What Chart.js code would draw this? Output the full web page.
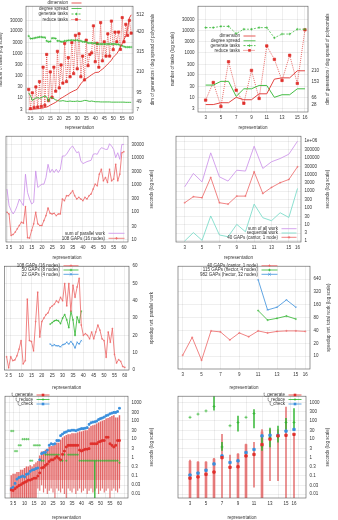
<!DOCTYPE html>
<html>
<head>
<meta charset="utf-8">
<script src="https://cdn.jsdelivr.net/npm/chart.js@4.4.1/dist/chart.umd.min.js"></script>
<style>
  html, body { margin: 0; padding: 0; background: #fff; }
  body { position: relative; width: 338px; height: 520px; overflow: hidden; }
  canvas { position: absolute; }
</style>
</head>
<body>
<canvas id="tasksAll" width="173" height="130" style="left:-4px;top:0"></canvas>
<canvas id="tasksSmall" width="169" height="130" style="left:169px;top:0"></canvas>
<canvas id="timeAll" width="169" height="130" style="left:0;top:130px"></canvas>
<canvas id="timeSmall" width="169" height="130" style="left:169px;top:130px"></canvas>
<canvas id="speedAll" width="169" height="130" style="left:0;top:260px"></canvas>
<canvas id="speedSmall" width="169" height="130" style="left:169px;top:260px"></canvas>
<canvas id="stepsAll" width="169" height="130" style="left:0;top:390px"></canvas>
<canvas id="stepsSmall" width="169" height="130" style="left:169px;top:390px"></canvas>
<script>
// ---- categories / ticks ----
const repsAll = [3,4,5,6,7,8,9,10,11,12,13,14,15,16,17,18,19,20,21,22,23,24,25,26,27,28,29,30,31,32,
  33,34,35,36,37,38,39,40,41,42,43,44,45,46,47,48,49,50,51,52,53,54,55,56,57,58,59,60];
const repsSmall = [3,4,5,6,7,8,9,10,11,12,13,14,15,16];
const repsMid = [24,25,26,27,28,29,30,31,32,33,34,35,36,37,38,39];
const repsHector = [11,12,13,14,15];

const xTicksAll = [3,5,10,15,20,25,30,35,40,45,50,55,60];
const xTicksSmall = [3,5,7,9,11,13,15,16];
const taskTicks = [3,10,30,100,300,1000,3000,10000,30000];
const dimTicksAll = [7,49,95,210,315,420,512];
const dimTicksSmall = [28,66,153,210];
const secTicksAll = [10,30,100,300,1000,3000,10000,30000];
const secTicksSmall = [1,3,10,30,100,300,1000,3000,10000,30000,100000,300000,1000000];
const speedTicks = [0,10,20,30,40,50,60];
const speedLogTicks = [10,20,40,80,160,320,640];
const stepTicks = [0.01,0.03,0.1,0.3,1,3,10,30,100,300,1000];

// ---- panel 1: tasks, representations 3..60 ----
const dimAll = [7,7,8,9,10,11,12,13,15,18, 20,24,30,35,40,45,52,60,67,72, 78,84,90,96,101,106,110,115,130,144,
  155,166,172,178,185,192,198,204,205,206, 215,222,230,240,250,259,270,285,295,305, 320,340,358,380,400,440,495,512];
const degAll = [95,80,55,62,68,70,66,70,75,78, 74,50,72,70,64,58,55,52,52,54, 52,50,50,52,50,50,50,52,50,50,
  52,55,55,52,50,52,50,48,48,48, 47,47,47,47,47,47,46,46,46,46, 46,46,46,46,45,45,45,45];
const genTasksAll = [6000,4600,4600,4800,5000,5200,5400,5400,5200,5200, 3600,3300,3400,4800,4800,4600,3600,3600,3300,3300,
  3600,3600,3800,3800,3900,3800,3800,3900,3600,3600, 3300,3300,3300,2900,2900,2900,2800,2900,2600,2600,
  2600,2600,2600,2600,2600,2600,2600,2600,2600,2500, 2500,2200,2200,2000,1900,1900,1900,1900];
const redTasksAll = [24,3.3,17,3.7,31,3.9,54,4.2,238,4.6, 890,7.5,146,10.5,238,20,1230,28,300,46,
  2800,54,640,89,3000,123,6400,202,7500,89, 750,64,3900,280,890,1050,17000,420,2800,238,
  24000,460,3300,750,7500,750,28000,1460,8900,3300, 9000,1500,40000,3300,20000,6400,30000,8000,50000,35000];

// ---- panel 2: tasks, representations 3..16 ----
const dimSmall = [28,28,38,38,67,54,54,86,86,165,172,172,210,210];
const degSmall = [133,133,153,153,72,113,113,131,131,67,81,81,113,113];
const genTasksSmall = [13200,13200,15000,15000,7100,11200,11200,13200,13200,4600,6800,6800,11200,11200];
const redTasksSmall = [7.5,46,3.9,390,21,5.4,160,8.9,2000,500,57,760,42,10500];

// ---- panel 3: seconds, 3..60 ----
const parWorkAll = [693,172,113,85,113,172,300,227,172,2430, 525,300,197,227,3210,796,916,1050,1050,1840,
  5620,2800,3700,2800,3700,2800,3700,11300,11300,13000, 17200,22700,26100,19700,14900,16200,7430,5940,6460,7030,
  7430,7860,13000,13700,13000,18200,22700,21500,19700,19700, 31700,26100,19700,9820,14900,8530,30000,30000];
const gaps108Time = [98,85,13.9,15.1,18.4,24.3,32.1,42.4,39,158, 11.5,11.1,21.2,37,98,37,32.1,32.1,48.8,74,
  141,90,85,90,74,85,85,300,261,396, 396,482,603,396,300,345,300,261,345,300,
  396,456,693,1050,916,2430,3700,1390,1840,1210, 3700,1390,1600,5620,1390,2430,14900,16200];

// ---- panel 4: seconds, 3..16 ----
const allWorkSmall = [1800,11500,3600,200000,7200,4000,18000,16000,500000,23000,58000,91000,166000,1000000];
const seqWorkSmall = [1,3.2,1.1,32,2.3,1.8,10,3.6,165,25,16.6,50,26,1450];
const gaps40Time = [200,460,400,6600,200,165,500,500,14500,720,1660,3200,5000,29000];

// ---- panel 5: speedup wrt parallel work ----
const speed108 = [7.7,1.2,7.7,5.4,5.8,8.2,12,17,3.5,5.4, 41,17,16.5,11,28,45,19,28,30,32,
  33,36,37,38,40,39,42,40,50,37, 50,34,49,42,48,53, 26,20,21,20,18,22,18,22,26,23,18,17,7.3,22,16,24,9,4,6,5,2,1.5];
const speed50 = [26.5,27.4,28.4,28.8,28.4,26.8,30,32,29,24.5,34,29,20,30.7,27.4,34];
const speed22 = [15,14,14.6,14,14,13.4,14.6,15,16,15,16.5,15,12.7,16,15,17];

// ---- panel 6: speedup wrt total work ----
const speed40 = [10.5,27.5,8,39,37,24,35,28.5,39,35,38,39,39,38];
const speed115 = [117,70,77,87,74];
const speed982 = [617,121,140,208,140];

// ---- panel 7: step times, 3..60 ----
const tGenAll = [0.016,0.015,0.019,0.023,0.028,0.031,0.037,0.042,0.047,0.056, 0.056,0.063,0.071,0.071,0.094,0.14,0.26,0.28,0.36,0.43,
  0.59,0.73,0.73,0.89,1.1,0.89,0.73,1.46,2.2,3.7, 4.6,4.6,4.6,4.6,4.6,4.6,2.5,2.2,2.5,2.8,
  2.8,3.0,5.6,5.6,5.6,5.6,6.9,7.5,8.4,8.4, 12.7,12.7,5.6,4.6,3.7,4.6,8.4,8.4];
const tRedAll = [28,28,2.2,2.2,4.6,4.6,10,10,10,10, 0.65,0.65,4.6,4.6,4.6,4.6,0.65,0.65,1.4,1.4,
  1.4,1.4,1.4,1.4,1.4,1.4,0.65,0.65,1.4,0.65, 1.4,1.4,1.4,1.4,1.4,1.4,0.65,0.65,0.65,0.65,
  0.65,0.65,0.65,0.65,0.65,0.65,0.65,0.65,0.65,0.65, 0.65,0.65,0.65,0.65,0.65,0.65,0.65,0.5];
const tChkAll = [0.019,0.023,0.037,0.063,0.077,0.084,0.094,0.084,0.115,0.125, 0.17,0.2,0.21,0.24,0.26,0.73,1.6,1.8,1.85,2.5,
  4.6,5.6,5.2,5.6,8.4,8.4,15.6,19,23,25, 29,29,31,31,29,32,35,38,38,40,
  43,65,80,86,90,98,120,135,146,165, 195,211,249,270,293,293,331,500];
const boxHiAll = [0.1,0.12,0.12,0.15, 0.15,0.2,0.2,0.25, 0.3,0.3,0.35,0.3, 0.4,0.5,0.6,1.2, 2,2,2.5,2.5,
  3.5,4,4,4.5, 6,6,9,12, 14,16,18,18, 20,20,20,22, 25,25,28,30, 30,40,50,55, 60,70,80,90,
  100,110,130,140, 160,180,200,150, 150,200];
const boxLoAll = [0.005,0.005,0.005,0.005,0.005,0.005,0.005,0.005,0.005,0.005,0.005,0.005,0.005,0.005,
  0.06,0.06,0.06,0.06,0.06,0.06,0.06,0.06,0.06,0.06, 0.06,0.06,0.06,0.06,0.06,0.06,0.06,0.06,0.06,0.06,
  0.06,0.06,0.06,0.06,0.06,0.06,0.06,0.06,0.06,0.06, 0.06,0.06,0.06,0.06,0.06,0.06,0.06,0.06,0.06,0.06, 0.06,0.06,0.06,0.06];
const lineLoAll = [0.005,0.005,0.005,0.005,0.005,0.005,0.005,0.005,0.005,0.005,0.005,0.005,0.005,0.005,
  0.02,0.015,0.03,0.012,0.02,0.01,0.015,0.02,0.012,0.004, 0.02,0.015,0.012,0.02,0.01,0.004,0.02,0.015,0.012,0.02,
  0.01,0.015,0.02,0.012,0.015,0.02,0.01,0.015,0.02,0.012, 0.015,0.02,0.01,0.015,0.02,0.012,0.015,0.02,0.004,0.015,
  0.02,0.015,0.012,0.02];
const redErrXAll = [47];
const redErrLoAll = [0.005];
const redErrHiAll = [0.65];

// ---- panel 8: step times, 3..16 ----
const tGenSmall = [0.074,0.087,0.12,0.16,0.97,0.29,0.31,1.2,1.45,5,9.9,14.8,16,18];
const tRedSmall = [152,227,338,593,3.7,53,80,152,245,4.2,12,13.6,80,80];
const tChkSmall = [0.11,0.14,0.2,0.44,1.2,0.53,0.65,1.84,2.7,14.8,16,16,27,33];
const lineHiSmall = [0.72,0.6,0.6,0.9,18,1.35,1.6,5.4,6.7,33,33,33,550,18];
const lineLoSmall = [0.005,0.005,0.005,0.005,0.005,0.005,0.005,0.005,0.024,0.005,0.055,0.055,0.005,0.005];
const boxXSmall = [3,4,5,6,9,10,12];
const boxHiSmall = [0.62,0.55,0.55,0.8,1.5,5,25];
const boxLoSmall = [0.005,0.005,0.005,0.005,0.005,0.005,0.005];
const redErrXSmall = [6,7,9,11,12,13,14,15,16];
const redErrLoSmall = [370,2.4,27,40,2.4,3.7,6.7,33,33];
const redErrHiSmall = [2500,6.7,180,400,15,40,50,135,450];

// ---- styles ----
const font = "'Liberation Sans', sans-serif";
const ink = '#333';
const gridCol = 'rgba(0,0,0,0.13)';
const tickFont = { family: font, size: 4.5 };
const red = '#e0302c';
const green = '#2fb52f';
const violet = '#c98de8';
const salmon = '#ec6464';
const teal = '#6fd8c4';
const blue = '#3a8fdc';
const pink = 'rgba(240,140,140,0.45)';
const errRed = 'rgba(216,58,58,0.7)';

const pts = (xs, ys) => xs.map((x, i) => ({ x, y: ys[i] }));
const spans = (xs, lo, hi) => xs.map((x, i) => ({ x, y: [lo[i], hi[i]] }));
const num = v => (v === 1000000 ? '1e+06' : String(v));

function drawMark(ctx, style, x, y, r, color) {
    ctx.fillStyle = color;
    ctx.strokeStyle = color;
    ctx.lineWidth = 0.7;
    if (style === 'rect') {
        ctx.fillRect(x - r, y - r, 2 * r, 2 * r);
        return;
    }
    ctx.beginPath();
    if (style === 'cross') {
        ctx.moveTo(x - r, y); ctx.lineTo(x + r, y);
        ctx.moveTo(x, y - r); ctx.lineTo(x, y + r);
    } else {
        ctx.moveTo(x - r, y - r); ctx.lineTo(x + r, y + r);
        ctx.moveTo(x - r, y + r); ctx.lineTo(x + r, y - r);
    }
    ctx.stroke();
}

// box around the plot area (gnuplot style)
const frame = {
    id: 'frame',
    afterDraw(chart) {
        const { ctx, chartArea: a } = chart;
        ctx.save();
        ctx.strokeStyle = '#555';
        ctx.lineWidth = 0.6;
        ctx.strokeRect(a.left, a.top, a.right - a.left, a.bottom - a.top);
        ctx.restore();
    }
};

// vertical axis titles, all reading bottom to top
const sideTitles = {
    id: 'sideTitles',
    afterDraw(chart, args, opts) {
        const { ctx, chartArea: a } = chart;
        const cy = (a.top + a.bottom) / 2;
        ctx.save();
        ctx.fillStyle = ink;
        ctx.font = `4.5px ${font}`;
        ctx.textAlign = 'center';
        ctx.textBaseline = 'middle';
        (opts.items || []).forEach(t => {
            ctx.save();
            ctx.translate(t.x, cy);
            ctx.rotate(-Math.PI / 2);
            ctx.fillText(t.text, 0, 0);
            ctx.restore();
        });
        ctx.restore();
    }
};

// gnuplot-like key: right aligned text, then line sample with marker
const gnuKey = {
    id: 'gnuKey',
    afterDraw(chart, args, opts) {
        if (opts.x === undefined) return;
        const ctx = chart.ctx;
        const items = chart.data.datasets.filter(d => d.key);
        ctx.save();
        ctx.font = `4.5px ${font}`;
        ctx.textAlign = 'right';
        ctx.textBaseline = 'middle';
        items.forEach((d, i) => {
            const y = opts.y + i * opts.dy;
            ctx.fillStyle = ink;
            ctx.fillText(d.label, opts.x, y);
            const x0 = opts.x + 3.5, x1 = x0 + opts.len;
            ctx.strokeStyle = d.borderColor;
            ctx.lineWidth = 0.8;
            ctx.setLineDash(d.borderDash || []);
            ctx.beginPath();
            ctx.moveTo(x0, y);
            ctx.lineTo(x1, y);
            ctx.stroke();
            ctx.setLineDash([]);
            if (d.pointStyle && d.pointRadius) drawMark(ctx, d.pointStyle, (x0 + x1) / 2, y, 1.3, d.borderColor);
        });
        ctx.restore();
    }
};

function xAxis(ticks, min, max, height) {
    return {
        type: 'linear', min, max,
        afterBuildTicks: a => { a.ticks = ticks.map(v => ({ value: v })); },
        afterFit: a => { a.height = height; },
        grid: { color: gridCol, lineWidth: 0.5, drawTicks: false },
        border: { display: false },
        ticks: { color: ink, font: tickFont, padding: 3, maxRotation: 0, autoSkip: false, callback: v => String(v) },
        title: { display: true, text: 'representation', color: ink, font: tickFont, padding: { top: 1.5, bottom: 0 } }
    };
}

function yAxis(cfg) {
    return {
        type: cfg.log ? 'logarithmic' : 'linear',
        position: cfg.side, min: cfg.min, max: cfg.max,
        afterBuildTicks: a => { a.ticks = cfg.ticks.map(v => ({ value: v })); },
        afterFit: a => { a.width = cfg.width; },
        grid: { display: cfg.grid !== false, color: gridCol, lineWidth: 0.5, drawTicks: false },
        border: { display: false },
        ticks: { color: ink, font: tickFont, padding: 3.5, autoSkip: false, callback: num }
    };
}

function panel(id, p) {
    return new Chart(document.getElementById(id), {
        type: 'line',
        data: { datasets: p.datasets },
        options: {
            responsive: false,
            animation: false,
            devicePixelRatio: 1,
            events: [],
            layout: { padding: { left: p.left || 0, top: p.top, right: 0, bottom: 0 } },
            elements: { line: { tension: 0, fill: false }, point: { radius: 0 } },
            plugins: {
                legend: { display: false },
                tooltip: { enabled: false },
                gnuKey: p.key,
                sideTitles: { items: p.titles }
            },
            scales: p.scales
        },
        plugins: [frame, sideTitles, gnuKey]
    });
}

// ===== PANEL 1 =====
panel('tasksAll', {
    top: 1,
    scales: {
        x: xAxis(xTicksAll, 1.5, 61, 17),
        y: yAxis({ log: true, side: 'left', min: 2.1, max: 130000, ticks: taskTicks, width: 30 }),
        y1: yAxis({ side: 'right', min: -12, max: 558, ticks: dimTicksAll, width: 36, grid: false })
    },
    key: { x: 72, y: 3, dy: 5.5, len: 10 },
    titles: [{ text: 'number of tasks (log scale)', x: 5 }, { text: 'dim of generators / deg spread of polynomials', x: 157 }],
    datasets: [
        { label: 'dimension', key: true, data: pts(repsAll, dimAll), yAxisID: 'y1', borderColor: red, borderWidth: 0.9, pointRadius: 0 },
        { label: 'degree spread', key: true, data: pts(repsAll, degAll), yAxisID: 'y1', borderColor: green, borderWidth: 0.9, pointRadius: 0 },
        { label: 'generate tasks', key: true, data: pts(repsAll, genTasksAll), yAxisID: 'y', borderColor: green, borderWidth: 0.7,
          borderDash: [2, 1.5], pointStyle: 'cross', pointRadius: 1.2, pointBorderWidth: 0.6 },
        { label: 'reduce tasks', key: true, data: pts(repsAll, redTasksAll), yAxisID: 'y', borderColor: red, backgroundColor: red,
          borderWidth: 0.7, borderDash: [1, 1], pointStyle: 'rect', pointRadius: 1.6 }
    ]
});

// ===== PANEL 2 =====
panel('tasksSmall', {
    top: 3,
    scales: {
        x: xAxis(xTicksSmall, 2, 16.4, 18),
        y: yAxis({ log: true, side: 'left', min: 2.2, max: 120000, ticks: taskTicks, width: 29 }),
        y1: yAxis({ side: 'right', min: -12, max: 558, ticks: dimTicksSmall, width: 30, grid: false })
    },
    key: { x: 71, y: 36, dy: 4.8, len: 12 },
    titles: [{ text: 'number of tasks (log scale)', x: 4 }, { text: 'dim of generators / deg spread of polynomials', x: 159 }],
    datasets: [
        { label: 'dimension', key: true, data: pts(repsSmall, dimSmall), yAxisID: 'y1', borderColor: red, borderWidth: 0.9, pointRadius: 0 },
        { label: 'degree spread', key: true, data: pts(repsSmall, degSmall), yAxisID: 'y1', borderColor: green, borderWidth: 0.9, pointRadius: 0 },
        { label: 'generate tasks', key: true, data: pts(repsSmall, genTasksSmall), yAxisID: 'y', borderColor: green, borderWidth: 0.7,
          borderDash: [2, 1.5], pointStyle: 'cross', pointRadius: 1.3, pointBorderWidth: 0.6 },
        { label: 'reduce tasks', key: true, data: pts(repsSmall, redTasksSmall), yAxisID: 'y', borderColor: red, backgroundColor: red,
          borderWidth: 0.7, borderDash: [1, 1], pointStyle: 'rect', pointRadius: 1.7 }
    ]
});

// ===== PANEL 3 =====
panel('timeAll', {
    top: 5, left: 6,
    scales: {
        x: xAxis(xTicksAll, 2.5, 62, 18),
        y: yAxis({ log: true, side: 'right', min: 8, max: 60000, ticks: secTicksAll, width: 41 })
    },
    key: { x: 105, y: 103.3, dy: 5, len: 16 },
    titles: [{ text: 'seconds (log scale)', x: 152 }],
    datasets: [
        { label: 'sum of parallel work', key: true, data: pts(repsAll, parWorkAll), borderColor: violet, borderWidth: 0.8, pointRadius: 0 },
        { label: '108 GAPs (16 nodes)', key: true, data: pts(repsAll, gaps108Time), borderColor: salmon, borderWidth: 0.8,
          pointStyle: 'cross', pointRadius: 0.9, pointBorderWidth: 0.5 }
    ]
});

// ===== PANEL 4 =====
panel('timeSmall', {
    top: 6, left: 7,
    scales: {
        x: xAxis(xTicksSmall, 2, 16.4, 18),
        y: yAxis({ log: true, side: 'right', min: 0.87, max: 2000000, ticks: secTicksSmall, width: 37 })
    },
    key: { x: 109, y: 98.7, dy: 4.3, len: 15 },
    titles: [{ text: 'seconds (log scale)', x: 159 }],
    datasets: [
        { label: 'sum of all work', key: true, data: pts(repsSmall, allWorkSmall), borderColor: violet, borderWidth: 0.8, pointRadius: 0 },
        { label: 'sequential work', key: true, data: pts(repsSmall, seqWorkSmall), borderColor: teal, borderWidth: 0.8, pointRadius: 0 },
        { label: '40 GAPs (cantor, 1 node)', key: true, data: pts(repsSmall, gaps40Time), borderColor: salmon, borderWidth: 0.8,
          pointStyle: 'cross', pointRadius: 1, pointBorderWidth: 0.5 }
    ]
});

// ===== PANEL 5 =====
panel('speedAll', {
    top: 4, left: 4,
    scales: {
        x: xAxis(xTicksAll, 2, 62, 20),
        y: yAxis({ side: 'right', min: 0, max: 60, ticks: speedTicks, width: 40 })
    },
    key: { x: 60, y: 5.7, dy: 4.3, len: 15 },
    titles: [{ text: 'speedup wrt. parallel work', x: 152 }],
    datasets: [
        { label: '108 GAPs (16 nodes)', key: true, data: pts(repsAll, speed108), borderColor: salmon, borderWidth: 0.8,
          pointStyle: 'cross', pointRadius: 0.9, pointBorderWidth: 0.5 },
        { label: '50 GAPs (8 nodes)', key: true, data: pts(repsMid, speed50), borderColor: green, borderWidth: 0.8,
          pointStyle: 'cross', pointRadius: 1, pointBorderWidth: 0.5 },
        { label: '22 GAPs (4 nodes)', key: true, data: pts(repsMid, speed22), borderColor: blue, borderWidth: 0.8,
          pointStyle: 'crossRot', pointRadius: 1, pointBorderWidth: 0.5 }
    ]
});

// ===== PANEL 6 =====
panel('speedSmall', {
    top: 5, left: 9,
    scales: {
        x: xAxis(xTicksSmall, 2.5, 16.5, 21),
        y: yAxis({ log: true, side: 'right', min: 5, max: 1280, ticks: speedLogTicks, width: 28 })
    },
    key: { x: 89, y: 5.7, dy: 4.3, len: 16 },
    titles: [{ text: 'speedup wrt. total work (log scale)', x: 160 }],
    datasets: [
        { label: '40 GAPs (cantor, 1 node)', key: true, data: pts(repsSmall, speed40), borderColor: salmon, borderWidth: 0.8,
          pointStyle: 'cross', pointRadius: 1.1, pointBorderWidth: 0.5 },
        { label: '115 GAPs (hector, 4 nodes)', key: true, data: pts(repsHector, speed115), borderColor: green, borderWidth: 0.8,
          pointStyle: 'cross', pointRadius: 1.1, pointBorderWidth: 0.5 },
        { label: '982 GAPs (hector, 32 nodes)', key: true, data: pts(repsHector, speed982), borderColor: blue, borderWidth: 0.8,
          pointStyle: 'crossRot', pointRadius: 1.1, pointBorderWidth: 0.5 }
    ]
});

// ===== PANEL 7 =====
panel('stepsAll', {
    top: 2, left: 5,
    scales: {
        x: xAxis(xTicksAll, 2.2, 62, 22),
        y: yAxis({ log: true, side: 'right', min: 0.0058, max: 2300, ticks: stepTicks, width: 41 })
    },
    key: { x: 33, y: 5, dy: 4.5, len: 13 },
    titles: [{ text: 'seconds (log scale)', x: 152 }],
    datasets: [
        { label: 't_generate', key: true, data: pts(repsAll, tGenAll), borderColor: red, backgroundColor: red, showLine: false,
          pointStyle: 'rect', pointRadius: 1.2 },
        { label: 't_reduce', key: true, data: pts(repsAll, tRedAll), borderColor: green, showLine: false,
          pointStyle: 'cross', pointRadius: 1.2, pointBorderWidth: 0.6 },
        { label: 't_check', key: true, data: pts(repsAll, tChkAll), borderColor: blue, backgroundColor: blue, showLine: false,
          pointStyle: 'rect', pointRadius: 1.2 },
        { type: 'bar', data: spans(redErrXAll, redErrLoAll, redErrHiAll), backgroundColor: green, barThickness: 0.6, grouped: false },
        { type: 'bar', data: spans(repsAll, lineLoAll, boxHiAll), backgroundColor: errRed, barThickness: 0.5, grouped: false },
        { type: 'bar', data: spans(repsAll, boxLoAll, boxHiAll), backgroundColor: pink, barThickness: 1.4, grouped: false }
    ]
});

// ===== PANEL 8 =====
panel('stepsSmall', {
    top: 2, left: 9,
    scales: {
        x: xAxis(xTicksSmall, 2.5, 16.5, 22),
        y: yAxis({ log: true, side: 'right', min: 0.0062, max: 2140, ticks: stepTicks, width: 32 })
    },
    key: { x: 116, y: 5, dy: 4.5, len: 13 },
    titles: [{ text: 'seconds (log scale)', x: 159 }],
    datasets: [
        { label: 't_generate', key: true, data: pts(repsSmall, tGenSmall), borderColor: red, backgroundColor: red, showLine: false,
          pointStyle: 'rect', pointRadius: 1.6 },
        { label: 't_reduce', key: true, data: pts(repsSmall, tRedSmall), borderColor: green, showLine: false,
          pointStyle: 'cross', pointRadius: 1.5, pointBorderWidth: 0.7 },
        { label: 't_check', key: true, data: pts(repsSmall, tChkSmall), borderColor: blue, backgroundColor: blue, showLine: false,
          pointStyle: 'rect', pointRadius: 1.6 },
        { type: 'bar', data: spans(redErrXSmall, redErrLoSmall, redErrHiSmall), backgroundColor: green, barThickness: 0.8, grouped: false },
        { type: 'bar', data: spans(repsSmall, lineLoSmall, lineHiSmall), backgroundColor: errRed, barThickness: 0.9, grouped: false },
        { type: 'bar', data: spans(boxXSmall, boxLoSmall, boxHiSmall), backgroundColor: pink, barThickness: 3, grouped: false }
    ]
});
</script>
</body>
</html>
